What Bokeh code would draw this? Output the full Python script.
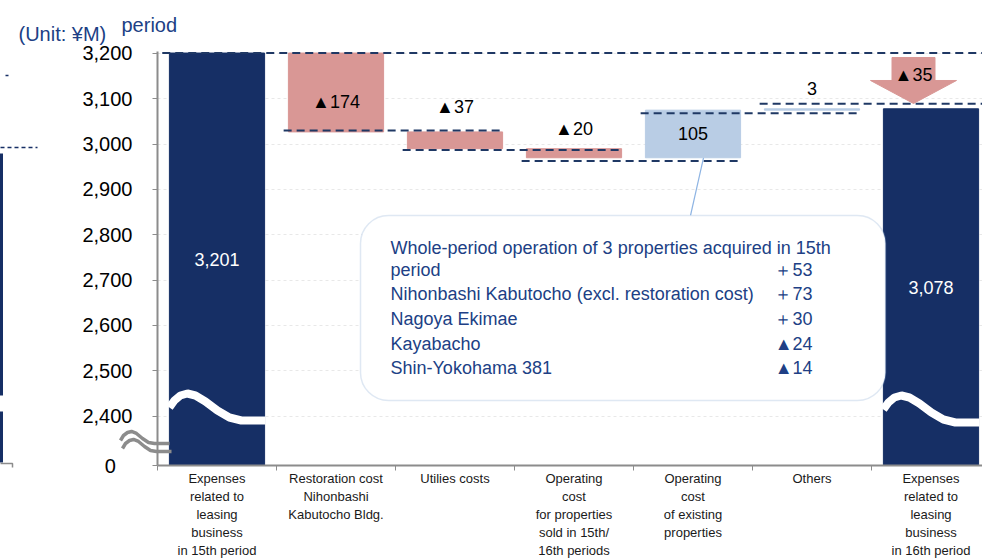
import numpy as np
from bokeh.plotting import figure
from bokeh.models import Range1d, FixedTicker, Label, BoxAnnotation, ColumnDataSource
from bokeh.embed import file_html
from bokeh.resources import INLINE
from bokeh.core.properties import value

# ---------------- data ----------------
categories = [
    "Expenses\nrelated to\nleasing\nbusiness\nin 15th period",
    "Restoration cost\nNihonbashi\nKabutocho Bldg.",
    "Utilies costs",
    "Operating\ncost\nfor properties\nsold in 15th/\n16th periods",
    "Operating\ncost\nof existing\nproperties",
    "Others",
    "Expenses\nrelated to\nleasing\nbusiness\nin 16th period",
]
start_total = 3201
deltas = [-174, -37, -20, 105, 3]
end_total = 3078
total_labels = ["3,201", "3,078"]
delta_labels = ["\u25b2174", "\u25b237", "\u25b220", "105", "3"]
arrow_label = "\u25b235"
connector_levels = [3030, 2987, 2963, 3068, 3089]
y_tick_values = [2400, 2500, 2600, 2700, 2800, 2900, 3000, 3100, 3200]
y_tick_labels = ["2,400", "2,500", "2,600", "2,700", "2,800", "2,900", "3,000", "3,100", "3,200"]
axis_zero_label = "0"
callout_lines = [
    "Whole-period operation of 3 properties acquired in 15th",
    "period",
    "Nihonbashi Kabutocho (excl. restoration cost)",
    "Nagoya Ekimae",
    "Kayabacho",
    "Shin-Yokohama 381",
]
callout_values = ["", "\uff0b53", "\uff0b73", "\uff0b30", "\u25b224", "\u25b214"]
unit_label = "(Unit: \u00a5M)"
title_fragment = "period"

# ---------------- layout helpers (page px -> data) ----------------
W, H = 982, 560
PX_PER_CAT = 119.0
PX_PER_VAL = 0.4533
FRAME_LEFT = 157
FRAME_TOP = 51
FRAME_BOTTOM = 465
def cx(px):
    return (px - FRAME_LEFT) / PX_PER_CAT
def vy(py):
    return 3200 - (py - 53) / PX_PER_VAL

AXIS_ZERO = round(vy(FRAME_BOTTOM), 1)
NAVY = "#162F65"
PINK = "#D99795"
LIGHTBLUE = "#B9CDE5"
TEXT_NAVY = "#203f85"
GRAY = "#8c8c8c"
FONT = "Liberation Sans"

p = figure(width=W, height=H, output_backend="svg", toolbar_location=None,
           x_range=Range1d(0, cx(W)), y_range=Range1d(AXIS_ZERO, vy(FRAME_TOP)),
           min_border_left=FRAME_LEFT, min_border_right=0, min_border_top=FRAME_TOP,
           min_border_bottom=H - FRAME_BOTTOM)
p.outline_line_color = None
p.background_fill_color = "white"
p.border_fill_color = "white"

n = len(categories)
centers = [i + 0.5 for i in range(n)]
BAR_W = 0.8

# axes
p.xaxis.ticker = FixedTicker(ticks=centers, minor_ticks=list(range(n + 1)))
p.xaxis.major_label_overrides = {c: lab for c, lab in zip(centers, categories)}
p.xaxis.major_tick_line_color = None
p.xaxis.major_tick_out = 0
p.xaxis.minor_tick_out = 5
p.xaxis.minor_tick_in = 0
p.xaxis.minor_tick_line_color = GRAY
p.xaxis.axis_line_color = GRAY
p.xaxis.axis_line_width = 2
p.xaxis.major_label_standoff = 0
p.xaxis.major_label_text_font = FONT
p.xaxis.major_label_text_font_size = "13px"
p.xaxis.major_label_text_color = "#1a1a1a"

yt = [AXIS_ZERO] + y_tick_values
p.yaxis.ticker = FixedTicker(ticks=yt)
ov = {AXIS_ZERO: axis_zero_label + "\u2007\u2008"}
ov.update({v: l for v, l in zip(y_tick_values, y_tick_labels)})
p.yaxis.major_label_overrides = ov
p.yaxis.major_tick_out = 5
p.yaxis.major_tick_in = 0
p.yaxis.minor_tick_line_color = None
p.yaxis.major_tick_line_color = GRAY
p.yaxis.axis_line_color = GRAY
p.yaxis.axis_line_width = 2
p.yaxis.major_label_standoff = 20
p.yaxis.major_label_text_font = FONT
p.yaxis.major_label_text_font_size = "20px"
p.yaxis.major_label_text_color = "#000000"

p.xgrid.visible = False
p.ygrid.grid_line_color = "#e8e8e8"
p.ygrid.grid_line_dash = "3 3"

# ---------------- waterfall ----------------
levels = start_total + np.cumsum([0] + deltas)
d_bottom = [min(levels[i], levels[i + 1]) for i in range(len(deltas))]
d_top = [max(levels[i], levels[i + 1]) for i in range(len(deltas))]
d_color = [PINK if d < 0 else LIGHTBLUE for d in deltas]
d_x = centers[1:1 + len(deltas)]
p.vbar(x=d_x, bottom=d_bottom, top=d_top, width=BAR_W, fill_color=d_color,
       line_color=d_color, line_width=1)

tot_x = [centers[0], centers[-1]]
tot_top = [start_total, end_total]
p.vbar(x=tot_x, bottom=AXIS_ZERO, top=tot_top, width=BAR_W, fill_color=NAVY, line_color=NAVY)

# break waves inside total bars (white)
wave = [(0, 407), (5, 400), (11, 395), (18, 393), (26, 395), (36, 401), (48, 410),
        (60, 417), (72, 420), (96, 420)]
for bx, shift in zip(tot_x, [0, 2]):
    left = bx - BAR_W / 2
    xs = [left + dx / PX_PER_CAT for dx, _ in wave]
    ys = [vy(py + shift) for _, py in wave]
    p.line(xs, ys, line_color="white", line_width=8)

# axis break marks (gray double wave), drawn unclipped
gw = [(120, 440), (123, 435), (127, 432), (131, 431), (136, 433), (142, 438), (148, 442),
      (154, 443), (160, 443), (169, 443)]
for sx, sy in [(0, 0), (2, 8)]:
    p.line([cx(x + sx) for x, _ in gw], [vy(y + sy) for _, y in gw],
           line_color=GRAY, line_width=3.5, level="overlay")

# fragments of the neighbouring chart at the left edge of the slide
p.line([cx(1), cx(1)], [vy(153), vy(395)], line_color=NAVY, line_width=3, level="overlay")
p.line([cx(1), cx(1)], [vy(411), vy(462)], line_color=NAVY, line_width=3, level="overlay")
p.line([cx(0), cx(37)], [vy(147), vy(147)], line_color=NAVY, line_width=1.5,
       line_dash="4 3", level="overlay")
p.line([cx(5), cx(8)], [vy(75), vy(75)], line_color=NAVY, line_width=1.5, level="overlay")
p.line([cx(0), cx(12), cx(12)], [vy(463), vy(463), vy(467)], line_color=GRAY,
       line_width=1.5, level="overlay")

# connectors
CONN = "#1F3864"
p.line([0.04, cx(W)], [start_total, start_total], line_color=CONN, line_width=2, line_dash="8 5")
for i, lev in enumerate(connector_levels):
    k = i + 1
    x1 = k + 1.88 if i < len(connector_levels) - 1 else cx(W)
    p.line([k + 0.06, x1], [lev, lev], line_color=CONN, line_width=2, line_dash="8 5")

# arrow
ac = cx(913)
ah = 21.5 / PX_PER_CAT
aw = 43 / PX_PER_CAT
a_top, a_head, a_tip = vy(57), vy(80), vy(103)
p.patch([ac - ah, ac + ah, ac + ah, ac + aw, ac, ac - aw, ac - ah],
        [a_top, a_top, a_head, a_head, a_tip, a_head, a_head],
        fill_color=PINK, line_color=PINK)
p.text([ac], [vy(75)], text=[arrow_label], text_font=value(FONT), text_font_size="18px",
       text_align="center", text_baseline="middle", text_color="black")

# bar labels
tot_mid = [(AXIS_ZERO + t) / 2 for t in tot_top]
p.text(tot_x, tot_mid, text=total_labels, text_font=value(FONT), text_font_size="18px",
       text_align="center", text_baseline="middle", text_color="white")

inside = [True, False, False, True, False]
offs = [10, -25, -20, 0, -20]
lab_y = [(b + t) / 2 if ins else t for b, t, ins in zip(d_bottom, d_top, inside)]
src = ColumnDataSource(dict(x=d_x, y=lab_y, t=delta_labels, o=offs))
p.text("x", "y", text="t", y_offset="o", source=src, text_font=value(FONT),
       text_font_size="18px", text_align="center", text_baseline="middle", text_color="black")

# callout
p.line([cx(703), cx(690)], [levels[3], vy(215)], line_color="#8EB4E3", line_width=1.2)
p.add_layout(BoxAnnotation(left=cx(360), right=cx(885), top=vy(215), bottom=vy(400),
                           fill_color="white", fill_alpha=1, line_color="#95B3D7",
                           line_width=1.5, border_radius=28))
row_y = [247.5, 270, 294, 318.5, 343.5, 368]
for txt, val, py in zip(callout_lines, callout_values, row_y):
    p.add_layout(Label(x=cx(390), y=vy(py), text=txt, text_font=FONT, text_font_size="18px",
                       text_color=TEXT_NAVY, text_align="left", text_baseline="middle"))
    if val:
        p.add_layout(Label(x=cx(812), y=vy(py), text=val, text_font=FONT, text_font_size="18px",
                           text_color=TEXT_NAVY, text_align="right", text_baseline="middle"))

# unit / title fragment above the plot area (unclipped overlay text)
p.text([cx(18), cx(121)], [vy(33), vy(24)], text=[unit_label, title_fragment],
       text_font=value(FONT), text_font_size="20px", text_color=TEXT_NAVY,
       text_align="left", text_baseline="alphabetic", level="overlay")

open("out.html", "w").write(file_html(p, INLINE))
